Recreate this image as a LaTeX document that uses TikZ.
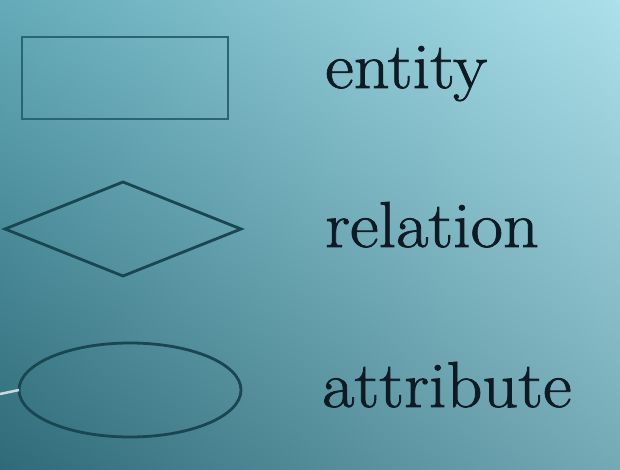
\documentclass[tikz,border=0pt]{standalone}
\usepackage{fontspec}
\newfontfamily\labelfont{Latin Modern Roman}[FakeBold=1.2, FakeStretch=1.08]
\usetikzlibrary{shapes.geometric,shadings}
\definecolor{bgUL}{HTML}{64AAB8}
\definecolor{bgUR}{HTML}{ACE0EA}
\definecolor{bgLL}{HTML}{2F6A78}
\definecolor{bgLR}{HTML}{74AAB6}
\definecolor{shapeline}{HTML}{1A4652}
\definecolor{rectline}{HTML}{2A6574}
\definecolor{labeltext}{HTML}{0E1A24}
\definecolor{stubline}{HTML}{C8DADE}
\tikzset{
  shapebase/.style={draw=shapeline, line width=2.8pt, inner sep=0pt, outer sep=0pt},
  legendlabel/.style={anchor=base west, inner sep=0pt, text=labeltext,
    font=\labelfont\fontsize{65}{72}\selectfont}
}
\begin{document}
\begin{tikzpicture}[x=1pt,y=-1pt]
  \useasboundingbox (0,0) rectangle (620,470);
  \shade[upper left=bgUL, upper right=bgUR, lower left=bgLL, lower right=bgLR]
    (0,0) rectangle (620,470);
  \node[shapebase, draw=rectline, rectangle, minimum width=206pt, minimum height=82pt]
    (ent) at (125,78) {};
  \node[shapebase, diamond, minimum width=236pt, minimum height=94pt]
    (rel) at (123,229) {};
  \node[shapebase, ellipse, minimum width=222pt, minimum height=94pt]
    (att) at (130,390) {};
  \coordinate (stub) at (0,394);
  \draw[stubline, line width=2.5pt] (stub) -- (att.west);
  \node[legendlabel] (entlab) at (325,88) {entity};
  \node[legendlabel] (rellab) at (325,247) {relation};
  \node[legendlabel] (attlab) at (322,407) {attribute};
\end{tikzpicture}
\end{document}
